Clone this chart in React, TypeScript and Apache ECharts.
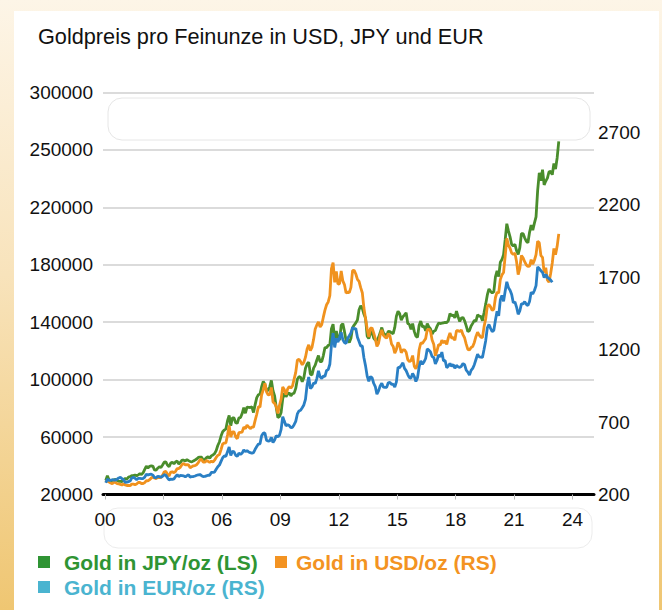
import React, { useEffect, useRef } from "react";
import * as echarts from "echarts";

const TITLE = "Goldpreis pro Feinunze in USD, JPY und EUR";
const START_YEAR = 2000;
const xTickYears = [2000, 2003, 2006, 2009, 2012, 2015, 2018, 2021, 2024];
const leftTickValues = [20000, 60000, 100000, 140000, 180000, 220000, 260000, 300000];
const leftTickLabels = ["20000", "60000", "100000", "140000", "180000", "220000", "250000", "300000"];
const rightTickLabels = ["200", "700", "1200", "1700", "2200", "2700"];

const seriesNames = ["Gold in JPY/oz (LS)", "Gold in USD/oz (RS)", "Gold in EUR/oz (RS)"];
const lineColors = ["#4a8d2c", "#f0921e", "#2a7fc4"];
const legendColors = ["#2f9434", "#f39322", "#4ab4d0"];

// monthly values, Jan 2000 onwards
const jpyOz = [
  29800, 33000, 30300, 29700, 29700, 30200, 30500, 29700, 29200, 29200, 29000, 30500,
  31100, 30700, 32100, 32400, 33200, 33100, 33500, 33000, 33700, 34500, 34000, 35100,
  37500, 39700, 38500, 39600, 39900, 39800, 37100, 36900, 38300, 39300, 38900, 40600,
  42500, 42700, 40500, 39400, 41900, 42400, 41400, 42800, 43200, 41300, 42400, 44000,
  43900, 43300, 44300, 43600, 43000, 42700, 43400, 44000, 44700, 45800, 46100, 46000,
  44100, 44400, 45600, 46300, 45200, 46900, 47500, 48500, 50600, 54100, 56600, 60700,
  63700, 64900, 65700, 71400, 75000, 67900, 73400, 73300, 70000, 69600, 73400, 73600,
  76400, 80500, 76600, 80800, 80700, 80600, 81100, 77100, 82600, 87500, 89500, 89900,
  95100, 98700, 96800, 92700, 92400, 95100, 99500, 92300, 88700, 80600, 73700, 74300,
  77200, 86800, 90600, 88100, 90000, 90800, 88700, 90200, 90600, 93900, 100300, 102100,
  101700, 98600, 101300, 107900, 110900, 112200, 103800, 103300, 108000, 110100, 113700, 116800,
  112600, 112500, 116800, 122300, 122300, 123900, 124200, 135500, 138600, 128200, 133900, 128900,
  127500, 137700, 139000, 133600, 127300, 127800, 125900, 128800, 136100, 138000, 139500, 141500,
  148700, 151400, 149700, 145700, 142800, 130300, 128700, 132100, 133600, 129000, 127600, 127100,
  129400, 132600, 136300, 132500, 131300, 130500, 133700, 133500, 132600, 132000, 136400, 144200,
  147600, 146000, 141500, 143800, 145100, 146600, 139100, 138500, 135000, 139100, 133600, 130300,
  129500, 137900, 140800, 136700, 137300, 134000, 139100, 136800, 135300, 131800, 133700, 134200,
  137100, 139400, 139100, 139300, 139600, 139900, 139700, 141100, 146000, 144600, 145000, 143000,
  147700, 143800, 140500, 142900, 143300, 141000, 137400, 133400, 134200, 137300, 139200, 141300,
  140700, 145200, 144300, 144000, 141100, 146800, 152600, 159000, 163200, 161500, 160300, 161300,
  171600, 175700, 171800, 181800, 183600, 187100, 197500, 208600, 203600, 199500, 194100, 193200,
  194200, 189800, 187300, 191800, 201700, 201700, 198800, 196400, 195300, 202600, 207600, 204100,
  209000, 213400, 231800, 244100, 238500, 246200, 235600, 238300, 240400, 244800, 245100, 242700,
  250500, 246700, 254400, 265900,
];

const usdOz = [
  284, 300, 286, 280, 275, 285, 282, 275, 273, 270, 266, 272,
  266, 262, 263, 261, 272, 271, 268, 273, 283, 283, 276, 276,
  282, 296, 294, 302, 314, 321, 314, 310, 319, 317, 319, 333,
  357, 359, 340, 328, 355, 356, 351, 360, 379, 379, 389, 407,
  414, 405, 406, 404, 384, 392, 398, 400, 406, 420, 439, 442,
  424, 423, 434, 429, 422, 430, 424, 437, 456, 470, 476, 510,
  549, 555, 557, 610, 676, 596, 633, 632, 598, 585, 627, 629,
  631, 665, 655, 679, 667, 655, 665, 665, 712, 754, 806, 803,
  889, 922, 968, 909, 888, 889, 939, 839, 829, 806, 760, 816,
  858, 943, 924, 890, 928, 946, 934, 949, 996, 1043, 1127, 1134,
  1118, 1095, 1113, 1148, 1205, 1233, 1193, 1215, 1271, 1343, 1370, 1391,
  1356, 1372, 1424, 1473, 1510, 1529, 1572, 1760, 1800, 1665, 1739, 1652,
  1656, 1743, 1675, 1649, 1591, 1598, 1594, 1630, 1745, 1747, 1722, 1685,
  1671, 1628, 1593, 1487, 1414, 1343, 1287, 1348, 1349, 1316, 1276, 1222,
  1244, 1300, 1336, 1299, 1287, 1279, 1311, 1296, 1239, 1222, 1176, 1202,
  1251, 1227, 1179, 1198, 1199, 1182, 1131, 1117, 1125, 1159, 1086, 1068,
  1097, 1199, 1246, 1243, 1260, 1276, 1337, 1341, 1326, 1267, 1238, 1157,
  1192, 1234, 1231, 1266, 1246, 1260, 1236, 1283, 1315, 1280, 1283, 1265,
  1331, 1331, 1325, 1335, 1303, 1282, 1238, 1202, 1198, 1215, 1221, 1250,
  1291, 1320, 1300, 1286, 1283, 1359, 1413, 1500, 1511, 1495, 1471, 1480,
  1560, 1597, 1591, 1683, 1716, 1732, 1846, 1968, 1921, 1900, 1866, 1858,
  1867, 1808, 1718, 1760, 1850, 1834, 1807, 1785, 1775, 1777, 1821, 1790,
  1817, 1856, 1948, 1937, 1849, 1837, 1732, 1765, 1681, 1665, 1726, 1798,
  1898, 1855, 1913, 1999,
];

const eurOz = [
  281, 306, 298, 298, 302, 300, 300, 306, 314, 318, 309, 302,
  283, 285, 289, 293, 313, 319, 312, 303, 311, 311, 310, 310,
  320, 340, 334, 339, 341, 334, 317, 316, 326, 323, 319, 326,
  337, 332, 315, 301, 306, 304, 308, 324, 338, 324, 332, 331,
  329, 321, 330, 337, 320, 324, 324, 328, 333, 336, 338, 330,
  324, 325, 329, 333, 332, 352, 353, 355, 374, 392, 403, 429,
  454, 466, 464, 496, 528, 469, 498, 494, 471, 464, 486, 477,
  485, 508, 496, 503, 494, 489, 485, 489, 512, 531, 548, 550,
  605, 623, 625, 575, 569, 570, 594, 559, 576, 606, 598, 609,
  650, 737, 705, 674, 682, 676, 662, 664, 682, 705, 756, 777,
  782, 799, 818, 857, 956, 1011, 932, 942, 970, 966, 1000, 1054,
  1012, 1001, 1017, 1016, 1056, 1062, 1099, 1231, 1314, 1215, 1279, 1252,
  1284, 1320, 1269, 1249, 1243, 1278, 1296, 1315, 1353, 1344, 1345, 1286,
  1256, 1224, 1225, 1144, 1088, 1017, 982, 1014, 1007, 968, 945, 892,
  915, 949, 968, 941, 939, 940, 971, 974, 960, 962, 941, 977,
  1078, 1076, 1092, 1109, 1071, 1055, 1028, 1006, 1004, 1035, 1015, 980,
  1006, 1080, 1123, 1100, 1115, 1139, 1205, 1197, 1184, 1152, 1146, 1102,
  1125, 1164, 1150, 1183, 1123, 1125, 1075, 1087, 1105, 1085, 1097, 1072,
  1091, 1082, 1077, 1085, 1104, 1096, 1058, 1045, 1024, 1057, 1071, 1096,
  1132, 1168, 1150, 1148, 1146, 1203, 1262, 1351, 1374, 1347, 1325, 1333,
  1405, 1465, 1433, 1544, 1574, 1533, 1605, 1668, 1628, 1610, 1581, 1523,
  1530, 1494, 1444, 1467, 1516, 1516, 1531, 1513, 1504, 1532, 1597, 1584,
  1608, 1642, 1771, 1760, 1744, 1733, 1698, 1720, 1698, 1690, 1680, 1665,
];

const toPairs = (vals: number[]) => vals.map((v, i) => [START_YEAR + (i + 0.5) / 12, v]);

export default function App() {
  const ref = useRef<HTMLDivElement>(null);
  useEffect(() => {
    if (!ref.current) return;
    const chart = echarts.init(ref.current, null, { renderer: "svg" });
    const font = "'Liberation Sans', Arial, sans-serif";
    chart.setOption({
      animation: false,
      backgroundColor: "transparent",
      title: {
        text: TITLE,
        left: 38,
        top: 25,
        padding: 0,
        textStyle: { fontFamily: font, fontSize: 21.7, fontWeight: "normal", color: "#111" },
      },
      grid: { left: 103, right: 68, top: 92.5, bottom: 115.5 },
      xAxis: {
        type: "value",
        min: 1999.9,
        max: 2025.1,
        axisLine: { show: true, lineStyle: { color: "#000", width: 3 } },
        axisTick: { show: true, customValues: xTickYears, length: 5, lineStyle: { color: "#bbb", width: 1 } },
        axisLabel: {
          customValues: xTickYears,
          formatter: (v: number) => String(Math.round(v) % 100).padStart(2, "0"),
          fontFamily: font,
          fontSize: 19,
          color: "#111",
          margin: 15,
        },
        splitLine: { show: false },
      },
      yAxis: [
        {
          type: "value",
          min: leftTickValues[0],
          max: leftTickValues[leftTickValues.length - 1],
          interval: leftTickValues[1] - leftTickValues[0],
          axisLine: { show: false },
          axisTick: { show: false },
          axisLabel: {
            fontFamily: font,
            fontSize: 19,
            color: "#111",
            margin: 10,
            formatter: (v: number) => {
              const idx = leftTickValues.indexOf(v);
              return idx >= 0 ? leftTickLabels[idx] : "";
            },
          },
          splitLine: { show: true, lineStyle: { color: "#cfcfcf", width: 1.5 } },
        },
        {
          type: "value",
          position: "right",
          min: Number(rightTickLabels[0]),
          max: 2975,
          interval: Number(rightTickLabels[1]) - Number(rightTickLabels[0]),
          axisLine: { show: false },
          axisTick: { show: false },
          splitLine: { show: false },
          axisLabel: {
            fontFamily: font,
            fontSize: 19,
            color: "#111",
            margin: 4,
            showMaxLabel: false,
            formatter: (v: number) => (rightTickLabels.includes(String(v)) ? String(v) : ""),
          },
        },
      ],
      series: [
        { name: seriesNames[0], type: "line", yAxisIndex: 0, data: toPairs(jpyOz) },
        { name: seriesNames[1], type: "line", yAxisIndex: 1, data: toPairs(usdOz) },
        { name: seriesNames[2], type: "line", yAxisIndex: 1, data: toPairs(eurOz) },
      ].map((s, i) => ({
        ...s,
        showSymbol: false,
        color: lineColors[i],
        lineStyle: { width: 2.8, color: lineColors[i] },
      })),
      graphic: [
        { type: "rect", shape: { x: 108, y: 98, width: 482, height: 42, r: 14 }, style: { fill: "none", stroke: "#e6e6e6", lineWidth: 1 }, silent: true },
        { type: "rect", shape: { x: 104, y: 508, width: 488, height: 40, r: 14 }, style: { fill: "none", stroke: "#ececec", lineWidth: 1 }, silent: true },
        { type: "rect", shape: { x: 38, y: 556, width: 12, height: 12 }, style: { fill: legendColors[0] } },
        { type: "text", x: 64, y: 562, style: { text: seriesNames[0], fill: legendColors[0], font: `bold 21px ${font}`, verticalAlign: "middle" } },
        { type: "rect", shape: { x: 275, y: 556, width: 12, height: 12 }, style: { fill: legendColors[1] } },
        { type: "text", x: 296, y: 562, style: { text: seriesNames[1], fill: legendColors[1], font: `bold 21px ${font}`, verticalAlign: "middle" } },
        { type: "rect", shape: { x: 38, y: 581, width: 12, height: 12 }, style: { fill: legendColors[2] } },
        { type: "text", x: 64, y: 587, style: { text: seriesNames[2], fill: legendColors[2], font: `bold 21px ${font}`, verticalAlign: "middle" } },
      ],
    });
    return () => chart.dispose();
  }, []);

  return (
    <div
      style={{
        position: "absolute",
        left: 0,
        top: 0,
        width: 662,
        height: 610,
        background: "linear-gradient(to bottom, #fdf5e7 0%, #f8e3bb 45%, #efc672 100%)",
        overflow: "hidden",
      }}
    >
      <div style={{ position: "absolute", left: 14, top: 11, width: 645, height: 599, background: "#fff" }} />
      <div ref={ref} style={{ position: "absolute", left: 0, top: 0, width: 662, height: 610 }} />
    </div>
  );
}
